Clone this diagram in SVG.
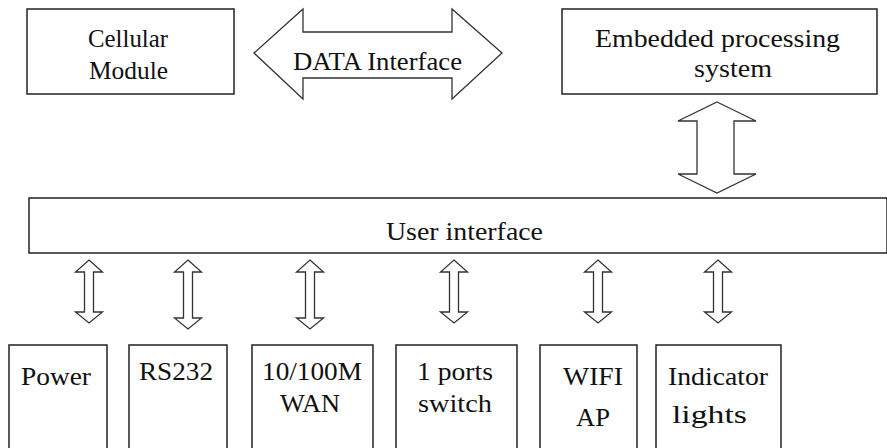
<svg xmlns="http://www.w3.org/2000/svg" width="887" height="448" viewBox="0 0 887 448">
<style>
.box{fill:#fff;stroke:#222;stroke-width:1.5}
.arr{fill:#fff;stroke:#333;stroke-width:1.3;stroke-linejoin:miter}
</style>
<rect width="887" height="448" fill="#fff"/>
<g font-family="Liberation Serif, Times New Roman, DejaVu Serif, serif" font-size="25" fill="#111">
<g id="cellular">
<rect class="box" x="27" y="9" width="207" height="85"/>
<text x="128" y="47" text-anchor="middle" textLength="80" lengthAdjust="spacingAndGlyphs">Cellular</text>
<text x="128.5" y="79" text-anchor="middle" textLength="79" lengthAdjust="spacingAndGlyphs">Module</text>
</g>
<g id="embedded">
<rect class="box" x="562" y="9" width="315" height="85"/>
<text x="595" y="47" textLength="245" lengthAdjust="spacingAndGlyphs">Embedded processing</text>
<text x="733" y="77" text-anchor="middle" textLength="78" lengthAdjust="spacingAndGlyphs">system</text>
</g>
<g id="user-interface">
<rect class="box" x="29" y="198" width="858" height="55"/>
<text x="386" y="240" textLength="157" lengthAdjust="spacingAndGlyphs">User interface</text>
</g>
<g id="power">
<rect class="box" x="9" y="345" width="98" height="120"/>
<text x="21" y="385" textLength="70" lengthAdjust="spacingAndGlyphs">Power</text>
</g>
<g id="rs232">
<rect class="box" x="129" y="345" width="98" height="120"/>
<text x="139" y="380" textLength="74" lengthAdjust="spacingAndGlyphs">RS232</text>
</g>
<g id="wan">
<rect class="box" x="252" y="345" width="121" height="120"/>
<text x="262" y="380" textLength="100" lengthAdjust="spacingAndGlyphs">10/100M</text>
<text x="280" y="412" textLength="60" lengthAdjust="spacingAndGlyphs">WAN</text>
</g>
<g id="switch">
<rect class="box" x="396" y="345" width="121" height="120"/>
<text x="417" y="380" textLength="76" lengthAdjust="spacingAndGlyphs">1 ports</text>
<text x="418" y="412" textLength="74" lengthAdjust="spacingAndGlyphs">switch</text>
</g>
<g id="wifi">
<rect class="box" x="540" y="345" width="97" height="120"/>
<text x="563" y="385" textLength="60" lengthAdjust="spacingAndGlyphs">WIFI</text>
<text x="576" y="426" textLength="34" lengthAdjust="spacingAndGlyphs">AP</text>
</g>
<g id="indicator">
<rect class="box" x="656" y="345" width="125" height="120"/>
<text x="668" y="385" textLength="100" lengthAdjust="spacingAndGlyphs">Indicator</text>
<text x="672" y="423" textLength="75" lengthAdjust="spacingAndGlyphs">lights</text>
</g>
<g id="connectors">
<g id="data-interface">
<polygon class="arr" points="254,53 303,9 303,32 452,32 452,9 502,53 452,99 452,78 303,78 303,99"/>
<text x="293" y="70" textLength="169" lengthAdjust="spacingAndGlyphs">DATA Interface</text>
</g>
<polygon class="arr" points="717,102 756,121 734,121 734,174 756,174 717,193 678,174 697,174 697,121 678,121"/>
<polygon class="arr" points="89,260 102.5,272 93.5,272 93.5,312 102.5,312 89,323 75.5,312 84.5,312 84.5,272 75.5,272"/>
<polygon class="arr" points="188,260 201.5,272 192.5,272 192.5,318 201.5,318 188,329 174.5,318 183.5,318 183.5,272 174.5,272"/>
<polygon class="arr" points="310,260 323.5,272 314.5,272 314.5,318 323.5,318 310,329 296.5,318 305.5,318 305.5,272 296.5,272"/>
<polygon class="arr" points="454,260 467.5,272 458.5,272 458.5,312 467.5,312 454,323 440.5,312 449.5,312 449.5,272 440.5,272"/>
<polygon class="arr" points="598,260 611.5,272 602.5,272 602.5,312 611.5,312 598,323 584.5,312 593.5,312 593.5,272 584.5,272"/>
<polygon class="arr" points="718,260 731.5,272 722.5,272 722.5,312 731.5,312 718,323 704.5,312 713.5,312 713.5,272 704.5,272"/>
</g>
</g>
</svg>
